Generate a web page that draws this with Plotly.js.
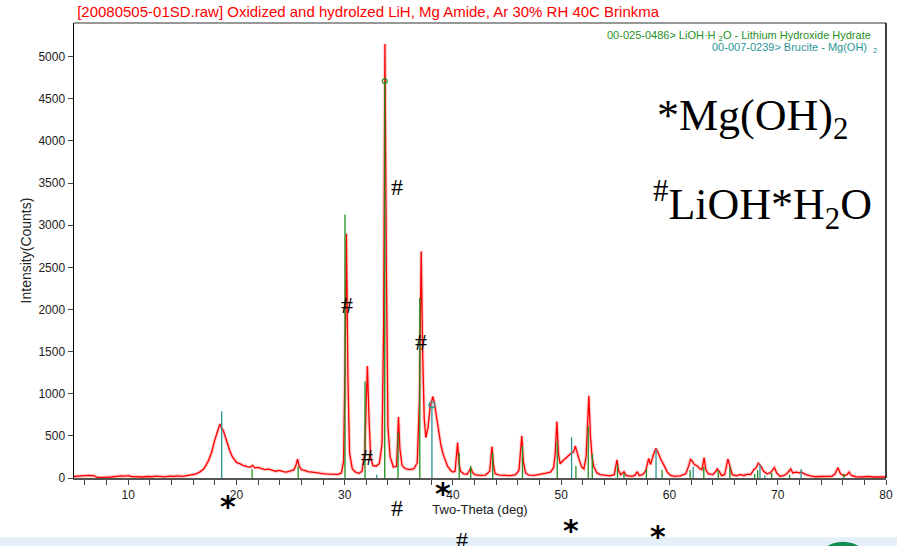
<!DOCTYPE html>
<html>
<head>
<meta charset="utf-8">
<script src="https://cdn.plot.ly/plotly-3.0.1.min.js"></script>
<style>html,body{margin:0;padding:0;background:#fff;}#chart{width:897px;height:546px;}</style>
</head>
<body>
<div id="chart"></div>
<script>
// Measured XRD pattern (red)
const twoTheta = [5.0,5.3,5.6,6.0,6.4,6.9,7.1,7.5,8.0,8.5,9.0,9.3,9.7,10.0,10.3,10.7,11.0,11.4,11.8,12.2,12.6,13.0,13.4,13.8,14.2,14.6,15.0,15.4,15.8,16.2,16.6,17.0,17.4,17.7,18.0,18.2,18.4,18.5,18.6,18.8,19.0,19.2,19.4,19.6,19.8,20.0,20.3,20.6,21.0,21.3,21.5,21.7,22.0,22.3,22.6,23.0,23.3,23.6,24.0,24.3,24.6,25.0,25.3,25.5,25.65,25.8,26.0,26.3,26.6,27.0,27.4,27.8,28.2,28.6,29.0,29.4,29.7,29.9,30.05,30.16,30.3,30.45,30.7,31.0,31.3,31.6,31.85,32.0,32.1,32.25,32.4,32.6,32.9,33.2,33.45,33.6,33.72,33.85,34.0,34.2,34.5,34.8,34.9,34.97,35.1,35.3,35.6,36.0,36.4,36.7,36.9,37.07,37.2,37.35,37.5,37.7,37.9,38.05,38.15,38.3,38.5,38.7,38.9,39.1,39.3,39.5,39.8,40.0,40.2,40.3,40.43,40.55,40.7,41.0,41.3,41.5,41.65,41.8,42.0,42.5,43.0,43.4,43.6,43.75,43.9,44.3,44.8,45.3,45.8,46.1,46.36,46.5,46.7,47.0,47.5,48.0,48.5,49.0,49.3,49.45,49.6,49.75,49.9,50.2,50.5,50.8,51.0,51.15,51.3,51.5,51.7,51.9,52.1,52.3,52.45,52.55,52.7,52.85,53.0,53.3,53.6,54.0,54.5,54.9,55.05,55.15,55.3,55.5,55.8,56.0,56.5,56.8,57.04,57.2,57.5,57.8,58.08,58.25,58.5,58.75,58.95,59.2,59.5,59.8,60.1,60.5,61.0,61.5,61.8,61.94,62.1,62.3,62.6,62.8,63.0,63.2,63.35,63.6,64.0,64.3,64.4,64.6,64.8,65.1,65.4,65.6,65.8,66.2,66.5,66.9,67.2,67.5,67.8,68.0,68.2,68.4,68.7,69.0,69.3,69.5,69.7,69.9,70.2,70.6,70.9,71.2,71.4,71.7,72.0,72.2,72.5,73.0,73.5,74.0,74.5,75.0,75.3,75.55,75.8,76.1,76.4,76.6,76.8,77.2,77.8,78.3,78.8,79.3,80.0];
const counts = [18,22,30,28,30,26,8,5,8,12,20,25,22,28,18,15,20,12,18,15,22,20,14,22,18,25,20,28,35,45,70,110,200,300,450,540,610,640,600,560,470,380,320,260,220,185,170,150,135,130,150,120,125,115,100,105,90,80,90,75,70,80,95,150,225,140,100,90,75,70,60,55,50,45,40,42,60,200,1500,2900,1200,300,110,70,55,80,300,1000,1330,700,250,150,140,170,400,1800,5150,2500,600,250,130,140,400,725,350,150,110,100,110,180,900,2690,1500,700,480,600,850,930,967,880,700,520,380,280,200,140,90,70,80,200,420,180,80,50,45,80,120,70,40,30,35,80,372,150,50,35,30,28,40,90,500,200,60,35,30,40,55,70,120,300,670,280,170,210,250,280,300,310,380,280,200,130,110,250,700,975,500,250,140,60,40,30,25,40,130,214,90,40,75,30,20,30,75,30,40,80,233,160,270,353,300,220,150,70,30,20,25,50,150,222,200,160,140,110,100,242,100,50,40,80,107,80,30,40,226,130,40,25,40,30,45,40,100,120,174,150,80,50,60,90,123,60,20,30,60,107,60,70,60,70,45,25,15,18,15,20,50,123,50,25,40,71,30,15,12,18,12,15,12];

// Reference stick pattern 00-025-0486 LiOH·H2O (green)
const liohPos = [21.45,25.7,30.03,31.88,33.70,34.93,36.94,40.58,41.64,43.67,46.42,49.63,51.36,52.5,52.87,55.2,55.8,57.87,59.32,61.91,63.17,64.5,65.58,67.87,68.15,69.44,71.1,76.1];
const liohInt = [103,135,3128,1145,4710,535,2140,296,146,297,380,432,143,610,285,155,60,107,95,95,135,95,135,48,95,60,40,50];
// Reference stick pattern 00-007-0239 Brucite Mg(OH)2 (teal)
const brucPos = [18.64,32.96,38.06,50.96,58.76,62.19,68.36,68.8,72.16];
const brucInt = [793,40,868,484,341,135,163,30,107];

// Phase marker labels (text, two-theta, counts) — some sit below the axis
const markText = ['#','#','#','#','#','#','*','*','*','*'];
const markX = [30.19,32.04,34.86,37.02,34.86,40.81,19.2,39.11,50.87,58.97];
const markY = [2053,253,3457,1618,-360,-736,-341,-182,-625,-697];

const xTicks = [10,20,30,40,50,60,70,80];
const yTicks = [0,500,1000,1500,2000,2500,3000,3500,4000,4500,5000];
const X_RANGE = [5,80], Y_RANGE = [0,5400];

function sticks(pos, val){
  const xs=[], ys=[];
  pos.forEach((p,i)=>{xs.push(p,p,null); ys.push(0,val[i],null);});
  return {x:xs,y:ys};
}
const gS = sticks(liohPos, liohInt), tS = sticks(brucPos, brucInt);
const GREEN = '#1f8f1f', TEAL = '#2a9595';

const traces = [
  {x:twoTheta, y:counts, type:'scatter', mode:'lines', line:{color:'rgba(255,90,90,0.3)', width:3.5}, hoverinfo:'skip'},
  {x:twoTheta, y:counts, type:'scatter', mode:'lines', line:{color:'#ff0000', width:1.3}},
  {x:gS.x, y:gS.y, type:'scatter', mode:'lines', line:{color:GREEN, width:1.3}},
  {x:tS.x, y:tS.y, type:'scatter', mode:'lines', line:{color:TEAL, width:1.3}},
  {x:[liohPos[4]], y:[liohInt[4]], type:'scatter', mode:'markers', marker:{symbol:'circle-open', size:5, color:GREEN, line:{width:1.2}}},
  {x:[brucPos[2]], y:[brucInt[2]], type:'scatter', mode:'markers', marker:{symbol:'circle-open', size:6, color:TEAL, line:{width:1.2}}}
];

// markers may lie outside the axis range, so place them in paper units
const ann = markText.map((t,i)=>({
  x:(markX[i]-X_RANGE[0])/(X_RANGE[1]-X_RANGE[0]),
  y:(markY[i]-Y_RANGE[0])/(Y_RANGE[1]-Y_RANGE[0]),
  xref:'paper', yref:'paper', text:t, showarrow:false,
  xanchor:'center', yanchor:'middle',
  font: t==='#' ? {family:'Liberation Serif', size:24, color:'#000'} : {family:'DejaVu Sans', size:30, weight:'bold', color:'#000'}
}));
ann.push(
  {xref:'paper', yref:'paper', x:0.984, y:0.972, xanchor:'right', yanchor:'middle', showarrow:false,
   text:'00-025-0486> LiOH·H <sub>2</sub>O - Lithium Hydroxide Hydrate', font:{family:'Liberation Sans', size:11, color:GREEN}},
  {xref:'paper', yref:'paper', x:0.991, y:0.944, xanchor:'right', yanchor:'middle', showarrow:false,
   text:'00-007-0239> Brucite - Mg(OH)  <sub>2</sub>', font:{family:'Liberation Sans', size:11, color:TEAL}},
  {xref:'paper', yref:'paper', x:0.715, y:0.79, xanchor:'left', yanchor:'middle', showarrow:false,
   text:'*Mg(OH)<sub>2</sub>', font:{family:'Liberation Serif', size:44, color:'#000'}},
  {xref:'paper', yref:'paper', x:0.71, y:0.60, xanchor:'left', yanchor:'middle', showarrow:false,
   text:'<sup>#</sup>LiOH*H<sub>2</sub>O', font:{family:'Liberation Serif', size:44, color:'#000'}}
);

const layout = {
  width:897, height:546,
  margin:{l:74, r:11, t:23, b:68},
  paper_bgcolor:'#fff', plot_bgcolor:'#fff',
  showlegend:false,
  title:{text:'[20080505-01SD.raw] Oxidized and hydrolzed LiH, Mg Amide, Ar 30% RH 40C Brinkma',
    xref:'container', yref:'container', x:0.086, y:0.978, xanchor:'left', yanchor:'middle',
    font:{family:'Liberation Sans', size:15, color:'#ff0000'}},
  xaxis:{range:X_RANGE, tickvals:xTicks, ticks:'outside', ticklen:5, tickcolor:'#444',
    minor:{dtick:2, tick0:0, ticks:'outside', ticklen:5, tickcolor:'#444'},
    showgrid:false, zeroline:false, showline:true, linecolor:'#555', linewidth:1.5, mirror:false,
    tickfont:{family:'Liberation Sans', size:12, color:'#222'},
    title:{text:'Two-Theta (deg)', standoff:3, font:{family:'Liberation Sans', size:13, color:'#222'}}},
  yaxis:{range:Y_RANGE, tickvals:yTicks, ticks:'outside', ticklen:5, tickcolor:'#444',
    showgrid:false, zeroline:false, showline:true, linecolor:'#000', linewidth:1.5, mirror:false,
    tickfont:{family:'Liberation Sans', size:12, color:'#222'},
    title:{text:'Intensity(Counts)', standoff:3, font:{family:'Liberation Sans', size:14, color:'#222'}}},
  shapes:[
    {type:'line', xref:'paper', yref:'paper', x0:0, x1:1, y0:1, y1:1, line:{color:'#333', width:1.2}},
    {type:'line', xref:'paper', yref:'paper', x0:1, x1:1, y0:0, y1:1, line:{color:'#000', width:1.5}},
    {type:'rect', xref:'paper', yref:'paper', x0:-0.1, x1:1.02, y0:-0.13, y1:-0.16, line:{width:0}, fillcolor:'#e3f0fa', layer:'below'},
    {type:'circle', xref:'paper', yref:'paper', x0:0.916, x1:0.978, y0:-0.14, y1:-0.23, line:{width:0}, fillcolor:'#108a4f'}
  ],
  annotations:ann
};
Plotly.newPlot('chart', traces, layout, {displayModeBar:false, staticPlot:true});
</script>
</body>
</html>
